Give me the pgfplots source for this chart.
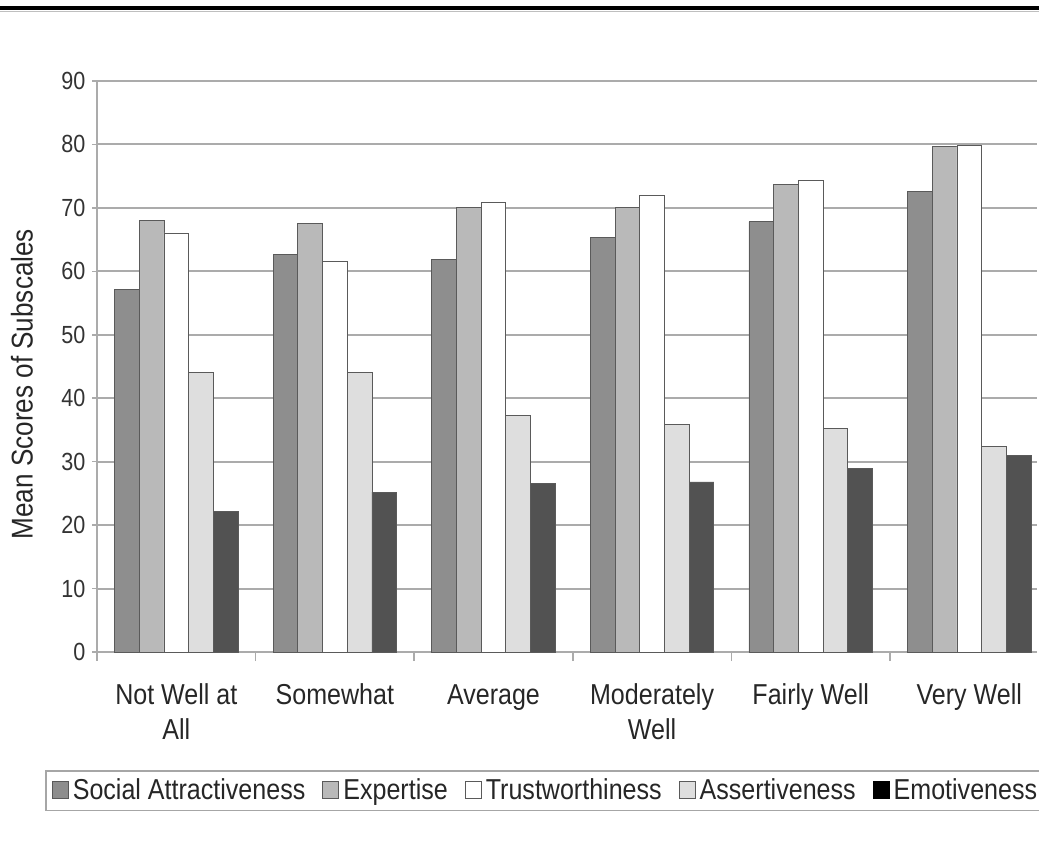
\documentclass[border=0pt]{standalone}
\usepackage{fontspec}
\setmainfont{Liberation Sans}[FakeStretch=0.87]
\usepackage{pgfplots}
\pgfplotsset{compat=1.18}
\definecolor{socgray}{HTML}{8E8E8E}
\definecolor{expgray}{HTML}{B9B9B9}
\definecolor{asrgray}{HTML}{DEDEDE}
\definecolor{emogray}{HTML}{525252}
\definecolor{gridgray}{HTML}{ABABAB}
\definecolor{edgegray}{HTML}{5A5A5A}

\begin{document}
\begin{tikzpicture}
\begin{axis}[
  at={(0,0)}, anchor=south west,
  scale only axis,
  width=470pt, height=285.5pt,
  ybar=0pt, bar width=12.35pt,
  xmin=-0.5, xmax=5.427,
  ymin=0, ymax=90,
  ytick={0,10,...,90},
  xtick={0,...,5},
  xticklabels={\strut Not Well at\\All, \strut Somewhat, \strut Average,
    \strut Moderately\\Well, \strut Fairly Well, \strut Very Well},
  minor xtick={0.5,1.5,2.5,3.5,4.5},
  axis x line*=bottom, axis y line*=left,
  ymajorgrids,
  major grid style={gridgray, line width=1pt},
  axis line style={gridgray, line width=1pt},
  xtick align=outside, ytick align=center,
  major x tick style={draw=none},
  minor x tick style={gridgray, line width=0.8pt},
  minor tick length=4.5pt,
  major y tick style={gridgray, line width=0.8pt},
  major tick length=4.5pt,
  /pgf/number format/assume math mode=true,
  yticklabel style={font=\fontsize{12.4}{14}\selectfont, text=black!80},
  xticklabel style={font=\fontsize{14.4}{17.5}\selectfont, align=center, anchor=north,
    yshift=-6pt, text=black!85},
  ylabel={Mean Scores of Subscales},
  ylabel style={font=\fontsize{15}{17}\selectfont, at={(axis description cs:-0.0798,0.469)}, anchor=center, text=black!85},
  legend columns=-1,
  legend style={
    at={(axis description cs:-0.0553,-0.2067)}, anchor=north west,
    draw=gray!70, line width=0.8pt,
    font=\fontsize{14.4}{17}\selectfont, text=black!85,
    /tikz/every even column/.append style={column sep=6.5pt},
  },
  legend image code/.code={\draw[#1, line width=0.5pt] (0.5pt,-4pt) rectangle (8.5pt,4.5pt);},
]
\addplot[fill=socgray, draw=edgegray] coordinates {(0,57.1)(1,62.6)(2,61.9)(3,65.3)(4,67.8)(5,72.6)};
\addplot[fill=expgray, draw=edgegray] coordinates {(0,68.05)(1,67.5)(2,70.05)(3,70.0)(4,73.75)(5,79.7)};
\addplot[fill=white, draw=edgegray] coordinates {(0,66.05)(1,61.6)(2,70.8)(3,71.9)(4,74.3)(5,79.9)};
\addplot[fill=asrgray, draw=edgegray] coordinates {(0,44.05)(1,44.05)(2,37.3)(3,35.9)(4,35.3)(5,32.4)};
\addplot[fill=emogray, draw=edgegray,
  legend image code/.code={\draw[fill=black, draw=black, line width=0.5pt] (0.5pt,-4pt) rectangle (8.5pt,4.5pt);}]
  coordinates {(0,22.2)(1,25.2)(2,26.6)(3,26.8)(4,29.0)(5,31.0)};
\legend{Social Attractiveness, Expertise, Trustworthiness, Assertiveness, Emotiveness}
\end{axis}
\draw[gridgray, line width=1pt] (0,0) -- (0,-4.5pt);
\draw[line width=2pt] (-48.5pt,322pt) -- (471pt,322pt);
\draw[gray!50, line width=0.8pt] (-48.5pt,320.3pt) -- (471pt,320.3pt);
\pgfresetboundingbox
\path[use as bounding box] (-48.5pt,-107.5pt) rectangle (471pt,326pt);
\end{tikzpicture}
\end{document}
